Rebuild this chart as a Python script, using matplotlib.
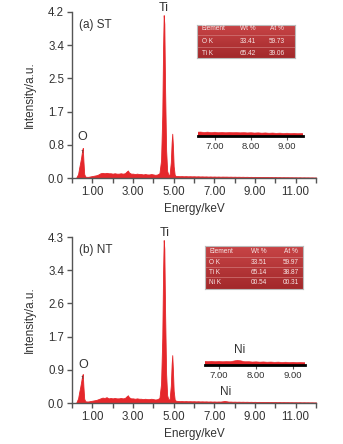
import matplotlib
matplotlib.use("Agg")
import matplotlib.pyplot as plt
import numpy as np

plt.rcParams['font.family'] = ['Liberation Sans', 'DejaVu Sans']

# energy channels (keV)
energy = [0.20, 0.30, 0.35, 0.40, 0.45, 0.50, 0.53, 0.56, 0.60, 0.65, 0.70, 0.80, 0.90,
          1.00, 1.10, 1.20, 1.30, 1.40, 1.50, 1.60, 1.70, 1.80, 1.90,
          2.00, 2.10, 2.20, 2.30, 2.40, 2.50, 2.60, 2.70, 2.75, 2.80, 2.90,
          3.00, 3.10, 3.20, 3.30, 3.40, 3.50, 3.60, 3.70, 3.80, 3.90,
          4.00, 4.10, 4.20, 4.30, 4.38, 4.44, 4.48, 4.51, 4.54, 4.58, 4.63, 4.68, 4.74,
          4.80, 4.86, 4.90, 4.93, 4.96, 5.00, 5.05, 5.10,
          5.20, 5.30, 5.40, 5.50, 5.60, 5.70, 5.80, 5.90,
          6.00, 6.10, 6.20, 6.30, 6.40, 6.50, 6.60, 6.70, 6.80, 6.90,
          7.00, 7.10, 7.20, 7.30, 7.40, 7.50, 7.60, 7.70, 7.80, 7.90,
          8.00, 8.10, 8.20, 8.30, 8.40, 8.50, 8.60, 8.70, 8.80, 8.90,
          9.00, 9.10, 9.20, 9.30, 9.40, 9.50, 9.60, 9.70, 9.80, 9.90,
          10.00, 10.10, 10.20, 10.30, 10.40, 10.50, 10.60, 10.70, 10.80, 10.90,
          11.00, 11.10, 11.20, 11.30, 11.40, 11.50, 11.60, 11.70, 11.80, 11.90, 12.00]

counts_st = [0.00, 0.10, 0.25, 0.38, 0.52, 0.70, 0.76, 0.45, 0.10, 0.04, 0.03, 0.03, 0.04,
             0.05, 0.06, 0.07, 0.09, 0.12, 0.13, 0.12, 0.13, 0.12, 0.12,
             0.11, 0.12, 0.11, 0.11, 0.12, 0.11, 0.12, 0.17, 0.19, 0.14, 0.11,
             0.11, 0.10, 0.11, 0.10, 0.10, 0.09, 0.10, 0.09, 0.09, 0.10,
             0.09, 0.08, 0.09, 0.12, 0.45, 1.60, 3.30, 4.12, 3.90, 2.20, 0.70, 0.18, 0.08,
             0.09, 0.40, 0.90, 1.12, 0.85, 0.30, 0.08, 0.05,
             0.050, 0.046, 0.048, 0.044, 0.047, 0.043, 0.045, 0.042,
             0.044, 0.040, 0.043, 0.039, 0.041, 0.038, 0.040, 0.036, 0.039, 0.035,
             0.038, 0.034, 0.037, 0.033, 0.036, 0.034, 0.035, 0.032, 0.034, 0.031,
             0.033, 0.030, 0.032, 0.029, 0.031, 0.028, 0.030, 0.027, 0.029, 0.026,
             0.028, 0.025, 0.027, 0.024, 0.026, 0.023, 0.025, 0.022, 0.024, 0.021,
             0.023, 0.020, 0.022, 0.019, 0.021, 0.019, 0.020, 0.018, 0.019, 0.017,
             0.018, 0.016, 0.018, 0.015, 0.017, 0.015, 0.016, 0.014, 0.015, 0.013, 0.014]

counts_nt = [0.00, 0.12, 0.27, 0.40, 0.55, 0.71, 0.75, 0.44, 0.11, 0.05, 0.04, 0.04, 0.05,
             0.06, 0.07, 0.08, 0.10, 0.12, 0.14, 0.13, 0.15, 0.12, 0.13,
             0.12, 0.13, 0.12, 0.12, 0.13, 0.12, 0.13, 0.18, 0.20, 0.15, 0.12,
             0.12, 0.11, 0.12, 0.11, 0.11, 0.10, 0.11, 0.10, 0.10, 0.11,
             0.10, 0.09, 0.10, 0.13, 0.50, 1.70, 3.40, 4.22, 4.00, 2.30, 0.75, 0.20, 0.09,
             0.10, 0.45, 1.00, 1.24, 0.90, 0.32, 0.09, 0.06,
             0.052, 0.048, 0.050, 0.046, 0.049, 0.045, 0.047, 0.044,
             0.046, 0.042, 0.045, 0.041, 0.043, 0.040, 0.042, 0.038, 0.041, 0.037,
             0.040, 0.036, 0.039, 0.037, 0.044, 0.052, 0.045, 0.036, 0.037, 0.033,
             0.035, 0.032, 0.034, 0.031, 0.033, 0.030, 0.032, 0.029, 0.031, 0.028,
             0.030, 0.027, 0.029, 0.026, 0.028, 0.025, 0.027, 0.024, 0.026, 0.023,
             0.025, 0.022, 0.024, 0.021, 0.023, 0.021, 0.022, 0.020, 0.021, 0.019,
             0.020, 0.018, 0.020, 0.017, 0.019, 0.017, 0.018, 0.016, 0.017, 0.015, 0.016]

yticks_st = [0.0, 0.84, 1.68, 2.52, 3.36, 4.2]
ylabels_st = ['0.0', '0.8', '1.7', '2.5', '3.4', '4.2']
yticks_nt = [0.0, 0.86, 1.72, 2.58, 3.44, 4.3]
ylabels_nt = ['0.0', '0.9', '1.7', '2.6', '3.4', '4.3']
xticks_major = [1, 3, 5, 7, 9, 11]
xlabels_major = ['1.00', '3.00', '5.00', '7.00', '9.00', '11.00']
xticks_minor = [0, 2, 4, 6, 8, 10, 12]
inset_ticks = [7, 8, 9]
inset_labels = ['7.00', '8.00', '9.00']

table_header = ['Element', 'Wt %', 'At %']
table_st = [['O K', '33.41', '59.73'],
            ['Ti K', '65.42', '39.06']]
table_nt = [['O K', '33.51', '59.97'],
            ['Ti K', '65.14', '38.87'],
            ['Ni K', '00.54', '00.31']]

RED = '#e5272b'
AXC = '#555555'
TXT = '#333333'
W, H = 343, 444


def fx(px):
    return px / W


def fy(py):
    return 1 - py / H


def main_panel(rect, counts, yticks, ylabels, ymax, tag):
    ax = fig.add_axes(rect)
    ax.fill_between(energy, counts, color=RED, lw=0.6)
    ax.set_xlim(0, 12)
    ax.set_ylim(0, ymax)
    for s in ['top', 'right']:
        ax.spines[s].set_visible(False)
    for s in ['left', 'bottom']:
        ax.spines[s].set_color(AXC)
        ax.spines[s].set_linewidth(1.0)
    ax.set_yticks(yticks)
    ax.set_yticklabels(ylabels)
    ax.set_xticks(xticks_major)
    ax.set_xticklabels(xlabels_major)
    ax.set_xticks(xticks_minor, minor=True)
    ax.tick_params(which='both', direction='out', length=3.5, width=1.0,
                   color=AXC, labelsize=8.3, labelcolor=TXT, pad=2.2)
    ax.set_xlabel('Energy/keV', fontsize=8.5, color=TXT, labelpad=3.5)
    ax.set_ylabel('Intensity/a.u.', fontsize=8.5, color=TXT)
    ax.yaxis.set_label_coords(-0.15, 0.5)
    ax.text(0.03, 0.92, tag, transform=ax.transAxes, fontsize=8.5,
            color=TXT, va='center', ha='left')
    return ax


def inset_panel(rect, counts, xlim, ytop):
    ax = fig.add_axes(rect)
    ax.fill_between(energy, counts, color=RED, lw=0.4)
    ax.set_xlim(*xlim)
    ax.set_ylim(0, ytop)
    for s in ['top', 'right', 'left']:
        ax.spines[s].set_visible(False)
    ax.spines['bottom'].set_linewidth(2.0)
    ax.spines['bottom'].set_color('black')
    ax.set_yticks([])
    ax.set_xticks(inset_ticks)
    ax.set_xticklabels(inset_labels)
    ax.tick_params(direction='out', length=3, width=0.8, color=AXC,
                   labelsize=6.8, labelcolor=TXT, pad=1.5)
    ax.patch.set_alpha(0)
    return ax


def table_box(rect, rows, colx, rowy):
    ax = fig.add_axes(rect)
    grad = np.linspace(0, 1, 50).reshape(-1, 1)
    cmap = matplotlib.colors.LinearSegmentedColormap.from_list('t', ['#c74446', '#a3292b'])
    ax.imshow(grad, aspect='auto', cmap=cmap, extent=[0, 1, 0, 1], origin='upper')
    ax.set_xlim(0, 1)
    ax.set_ylim(0, 1)
    ax.set_xticks([])
    ax.set_yticks([])
    for s in ax.spines.values():
        s.set_color('#bbbbbb')
        s.set_linewidth(0.8)
    allrows = [table_header] + rows
    for i, row in enumerate(allrows):
        y = rowy[i]
        for j, val in enumerate(row):
            ha = 'left' if j == 0 else 'center'
            ax.text(colx[j], y, val, fontsize=4.7, color='#f6e6e6',
                    ha=ha, va='center', transform=ax.transAxes)
        if i < len(allrows) - 1:
            ly = (rowy[i] + rowy[i + 1]) / 2
            ax.axhline(ly, color='#d98a8a', lw=0.4)
    return ax


fig = plt.figure(figsize=(W / 100, H / 100), dpi=100)

# panel (a)
ax1 = main_panel([fx(72), fy(178), fx(244), 166 / H], counts_st,
                 yticks_st, ylabels_st, 4.2, '(a) ST')
ax1.text(4.52, 4.29, 'Ti', fontsize=9, color=TXT, ha='center', va='center', clip_on=False)
ax1.text(0.52, 1.05, 'O', fontsize=9, color=TXT, ha='center', va='center')
ax1.text(0.52, 0.66, 'Ti', fontsize=3, color=TXT, ha='center', va='center')
inset_panel([fx(198), fy(136), fx(105), 5 / H], counts_st, (6.53, 9.44), 0.05)
table_box([fx(197), fy(58), fx(98), 33 / H], table_st,
          [0.048, 0.517, 0.813], [0.89, 0.515, 0.15])

# panel (b)
ax2 = main_panel([fx(72), fy(403), fx(244), 166 / H], counts_nt,
                 yticks_nt, ylabels_nt, 4.3, '(b) NT')
ax2.text(4.55, 4.41, 'Ti', fontsize=9, color=TXT, ha='center', va='center', clip_on=False)
ax2.text(0.55, 0.98, 'O', fontsize=9, color=TXT, ha='center', va='center')
ax2.text(0.52, 0.66, 'Ti', fontsize=3, color=TXT, ha='center', va='center')
ax2.text(7.55, 0.29, 'Ni', fontsize=8.5, color=TXT, ha='center', va='center')
inset_panel([fx(205), fy(365), fx(100), 5 / H], counts_nt, (6.62, 9.32), 0.055)
fig.text(fx(240), fy(350), 'Ni', fontsize=8.5, color=TXT, ha='center', va='center')
table_box([fx(205), fy(289), fx(98), 42.6 / H], table_nt,
          [0.041, 0.553, 0.877], [0.875, 0.624, 0.39, 0.155])

fig.savefig('out.png', dpi=100)
